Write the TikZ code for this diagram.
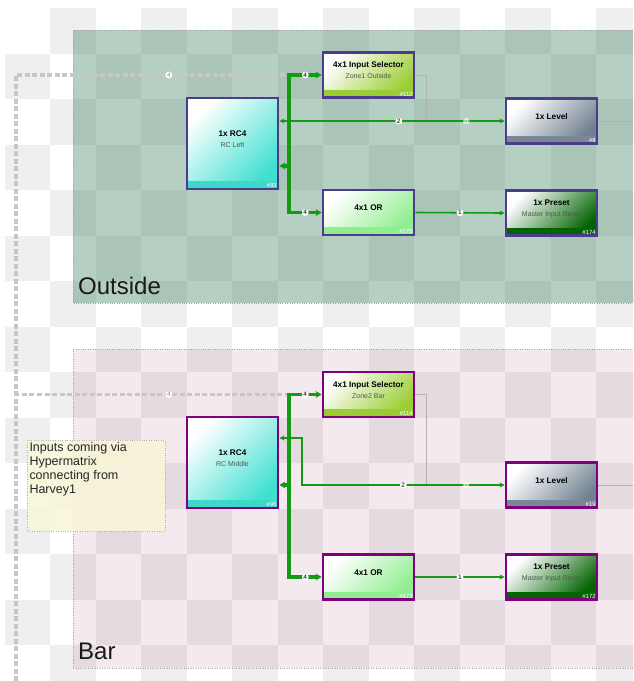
\documentclass[tikz,border=0pt]{standalone}
\usepackage{fontspec}
\setsansfont{Liberation Sans}
\usetikzlibrary{arrows.meta}
\definecolor{rcfill}{HTML}{40E0D0}
\definecolor{rcstrip}{HTML}{3CD8C8}
\definecolor{selfill}{HTML}{9ACD32}
\definecolor{levfill}{HTML}{708090}
\definecolor{levstrip}{HTML}{7A8896}
\definecolor{orfill}{HTML}{90EE90}
\definecolor{prefill}{HTML}{006400}
\definecolor{outborder}{HTML}{4B3C8E}
\definecolor{barborder}{HTML}{800080}
\definecolor{wirecol}{HTML}{149A14}
\definecolor{outgrp}{RGB}{44,118,84}
\definecolor{bargrp}{RGB}{135,35,85}
\definecolor{checker}{HTML}{EFEFEF}
\definecolor{notefill}{HTML}{F7F5D8}
\definecolor{subgrey}{HTML}{555555}
\newcommand{\blksub}[1]{{\mdseries\fontsize{7}{11}\selectfont\color{subgrey}#1}}

\begin{document}
\begin{tikzpicture}[x=1pt, y=-1pt, >={Stealth[length=6pt, width=7pt]},
    blk/.style={draw, line width=2.8pt, minimum width=91pt, minimum height=45pt, inner sep=0pt},
    big/.style={minimum height=91pt},
    grad/.style={top color=white, bottom color=#1, shading angle=45},
    strip/.style={path picture={\fill[#1] ([yshift=8pt]path picture bounding box.south west) rectangle (path picture bounding box.south east);}},
    btxt/.style={font=\sffamily\bfseries\fontsize{8.2}{11}\selectfont, align=center, inner sep=0pt},
    bid/.style={anchor=south east, text=white, font=\sffamily\fontsize{6}{6}\selectfont, inner sep=2.5pt},
    num/.style={circle, fill=white, inner sep=0.4pt, font=\sffamily\fontsize{6.5}{7}\selectfont},
    ghost/.style={num, fill opacity=0.45, text=white, text opacity=0.9},
    hlbl/.style={num, text=black!45},
    hyper/.style={draw=black!22, line width=3.5pt, dash pattern=on 5pt off 2.5pt},
    bus/.style={draw=wirecol, line width=3.5pt},
    ctl/.style={draw=wirecol, line width=1.6pt, >={Stealth[length=5pt, width=5pt]}},
    wire/.style={draw=black!30, line width=0.8pt},
    grplbl/.style={anchor=base west, font=\sffamily\fontsize{24}{28}\selectfont, text=black!90, inner sep=0pt},
    note/.style={draw=black!30, dotted, fill=notefill, fill opacity=0.9, minimum width=138pt, minimum height=91pt},
    notetxt/.style={anchor=north west, align=left, font=\sffamily\fontsize{12.5}{14}\selectfont, text=black!85, inner sep=2.5pt}]

    \useasboundingbox (0,0) rectangle (633,681);
    \clip (0,0) rectangle (633,681);

    % canvas grid
    \foreach \i in {0,...,13}
      \foreach \j in {0,...,14} {
        \pgfmathtruncatemacro{\odd}{mod(\i+\j,2)}
        \ifnum\odd=1 \fill[checker] (4.5+45.5*\i, 8+45.5*\j) rectangle ++(45.5,45.5); \fi
      }

    % groups
    \fill[outgrp, opacity=0.35] (73,30) rectangle (640,303);
    \draw[black!35, dotted] (73,30) rectangle (640,303);
    \node[grplbl] at (78,294) {Outside};
    \fill[bargrp, opacity=0.1] (73,349) rectangle (640,668);
    \draw[black!35, dotted] (73,349) rectangle (640,668);
    \node[grplbl] at (78,659) {Bar};

    \node[note] (hnote) at (96,485.5) {};
    \node[notetxt] at (hnote.north west) {Inputs coming via\\Hypermatrix\\connecting from\\Harvey1};

    \coordinate (hmx) at (16,681);

    \begin{scope}[every node/.append style={draw=outborder}]
      \node[blk, big, grad=rcfill, strip=rcstrip] (rc4o) at (232.5,143.5) {};
      \node[blk, grad=selfill, strip=selfill] (selo) at (368.5,75) {};
      \node[blk, grad=levfill, strip=levstrip] (levo) at (551.5,121) {};
      \node[blk, grad=orfill, strip=orfill] (oro) at (368.5,212.5) {};
      \node[blk, grad=prefill, strip=prefill] (preo) at (551.5,213) {};
    \end{scope}
    \node[btxt] at ([yshift=4.5pt]rc4o.center) {1x RC4\\\blksub{RC Left}};
    \node[bid] at (rc4o.south east) {\#93};
    \node[btxt] at ([yshift=4.5pt]selo.center) {4x1 Input Selector\\\blksub{Zone1 Outside}};
    \node[bid] at (selo.south east) {\#112};
    \node[btxt] at ([yshift=4.5pt]levo.center) {1x Level};
    \node[bid] at (levo.south east) {\#8};
    \node[btxt] at ([yshift=4.5pt]oro.center) {4x1 OR};
    \node[bid] at (oro.south east) {\#175};
    \node[btxt] at ([yshift=4.5pt]preo.center) {1x Preset\\\blksub{Master Input Reset}};
    \node[bid] at (preo.south east) {\#174};

    \begin{scope}[every node/.append style={draw=barborder}]
      \node[blk, big, grad=rcfill, strip=rcstrip] (rc4b) at (232.5,462.5) {};
      \node[blk, grad=selfill, strip=selfill] (selb) at (368.5,394.5) {};
      \node[blk, grad=levfill, strip=levstrip] (levb) at (551.5,485) {};
      \node[blk, grad=orfill, strip=orfill] (orb) at (368.5,577) {};
      \node[blk, grad=prefill, strip=prefill] (preb) at (551.5,577) {};
    \end{scope}
    \node[btxt] at ([yshift=4.5pt]rc4b.center) {1x RC4\\\blksub{RC Middle}};
    \node[bid] at (rc4b.south east) {\#96};
    \node[btxt] at ([yshift=4.5pt]selb.center) {4x1 Input Selector\\\blksub{Zone2 Bar}};
    \node[bid] at (selb.south east) {\#114};
    \node[btxt] at ([yshift=4.5pt]levb.center) {1x Level};
    \node[bid] at (levb.south east) {\#19};
    \node[btxt] at ([yshift=4.5pt]orb.center) {4x1 OR};
    \node[bid] at (orb.south east) {\#173};
    \node[btxt] at ([yshift=4.5pt]preb.center) {1x Preset\\\blksub{Master Input Reset}};
    \node[bid] at (preb.south east) {\#172};

    % Outside wiring
    \coordinate (tapo) at (289,166);
    \coordinate (edgeo) at (633,121);
    \draw[hyper] (hmx) |- node[hlbl, pos=0.78] {4} (selo.west -| tapo);
    \draw[wire] (selo.east) -| ([xshift=11pt]selo.east |- levo.west);
    \draw[wire] (levo.east) -- (edgeo);
    \draw[bus, ->] (tapo) |- node[num, pos=0.75] {4} (selo.west);
    \draw[bus, ->] (tapo) |- node[num, pos=0.75] {4} (oro.west);
    \draw[bus, ->] (tapo) -- (rc4o.east |- tapo);
    \draw[ctl, <->] (rc4o.east |- levo.west) -- node[num, pos=0.53] {2} node[ghost, pos=0.83] {0} (levo.west);
    \draw[ctl, ->] (oro.east) -- node[num] {1} (preo.west);

    % Bar wiring
    \coordinate (tapb) at (289,485);
    \coordinate (bendb) at (302,438);
    \coordinate (edgeb) at (633,485);
    \draw[hyper] (hmx) |- node[hlbl, pos=0.78] {4} (selb.west -| tapb);
    \draw[wire] (selb.east) -| ([xshift=11pt]selb.east |- levb.west);
    \draw[wire] (levb.east) -- (edgeb);
    \draw[bus, ->] (tapb) |- node[num, pos=0.75] {4} (selb.west);
    \draw[bus, ->] (tapb) |- node[num, pos=0.75] {4} (orb.west);
    \draw[bus, ->] (tapb) -- (rc4b.east |- tapb);
    \draw[ctl, <->] (rc4b.east |- bendb) -| (bendb |- levb.west) -- node[num, pos=0.5] {2} node[ghost, pos=0.81] {0} (levb.west);
    \draw[ctl, ->] (orb.east) -- node[num] {1} (preb.west);

  \end{tikzpicture}
\end{document}
